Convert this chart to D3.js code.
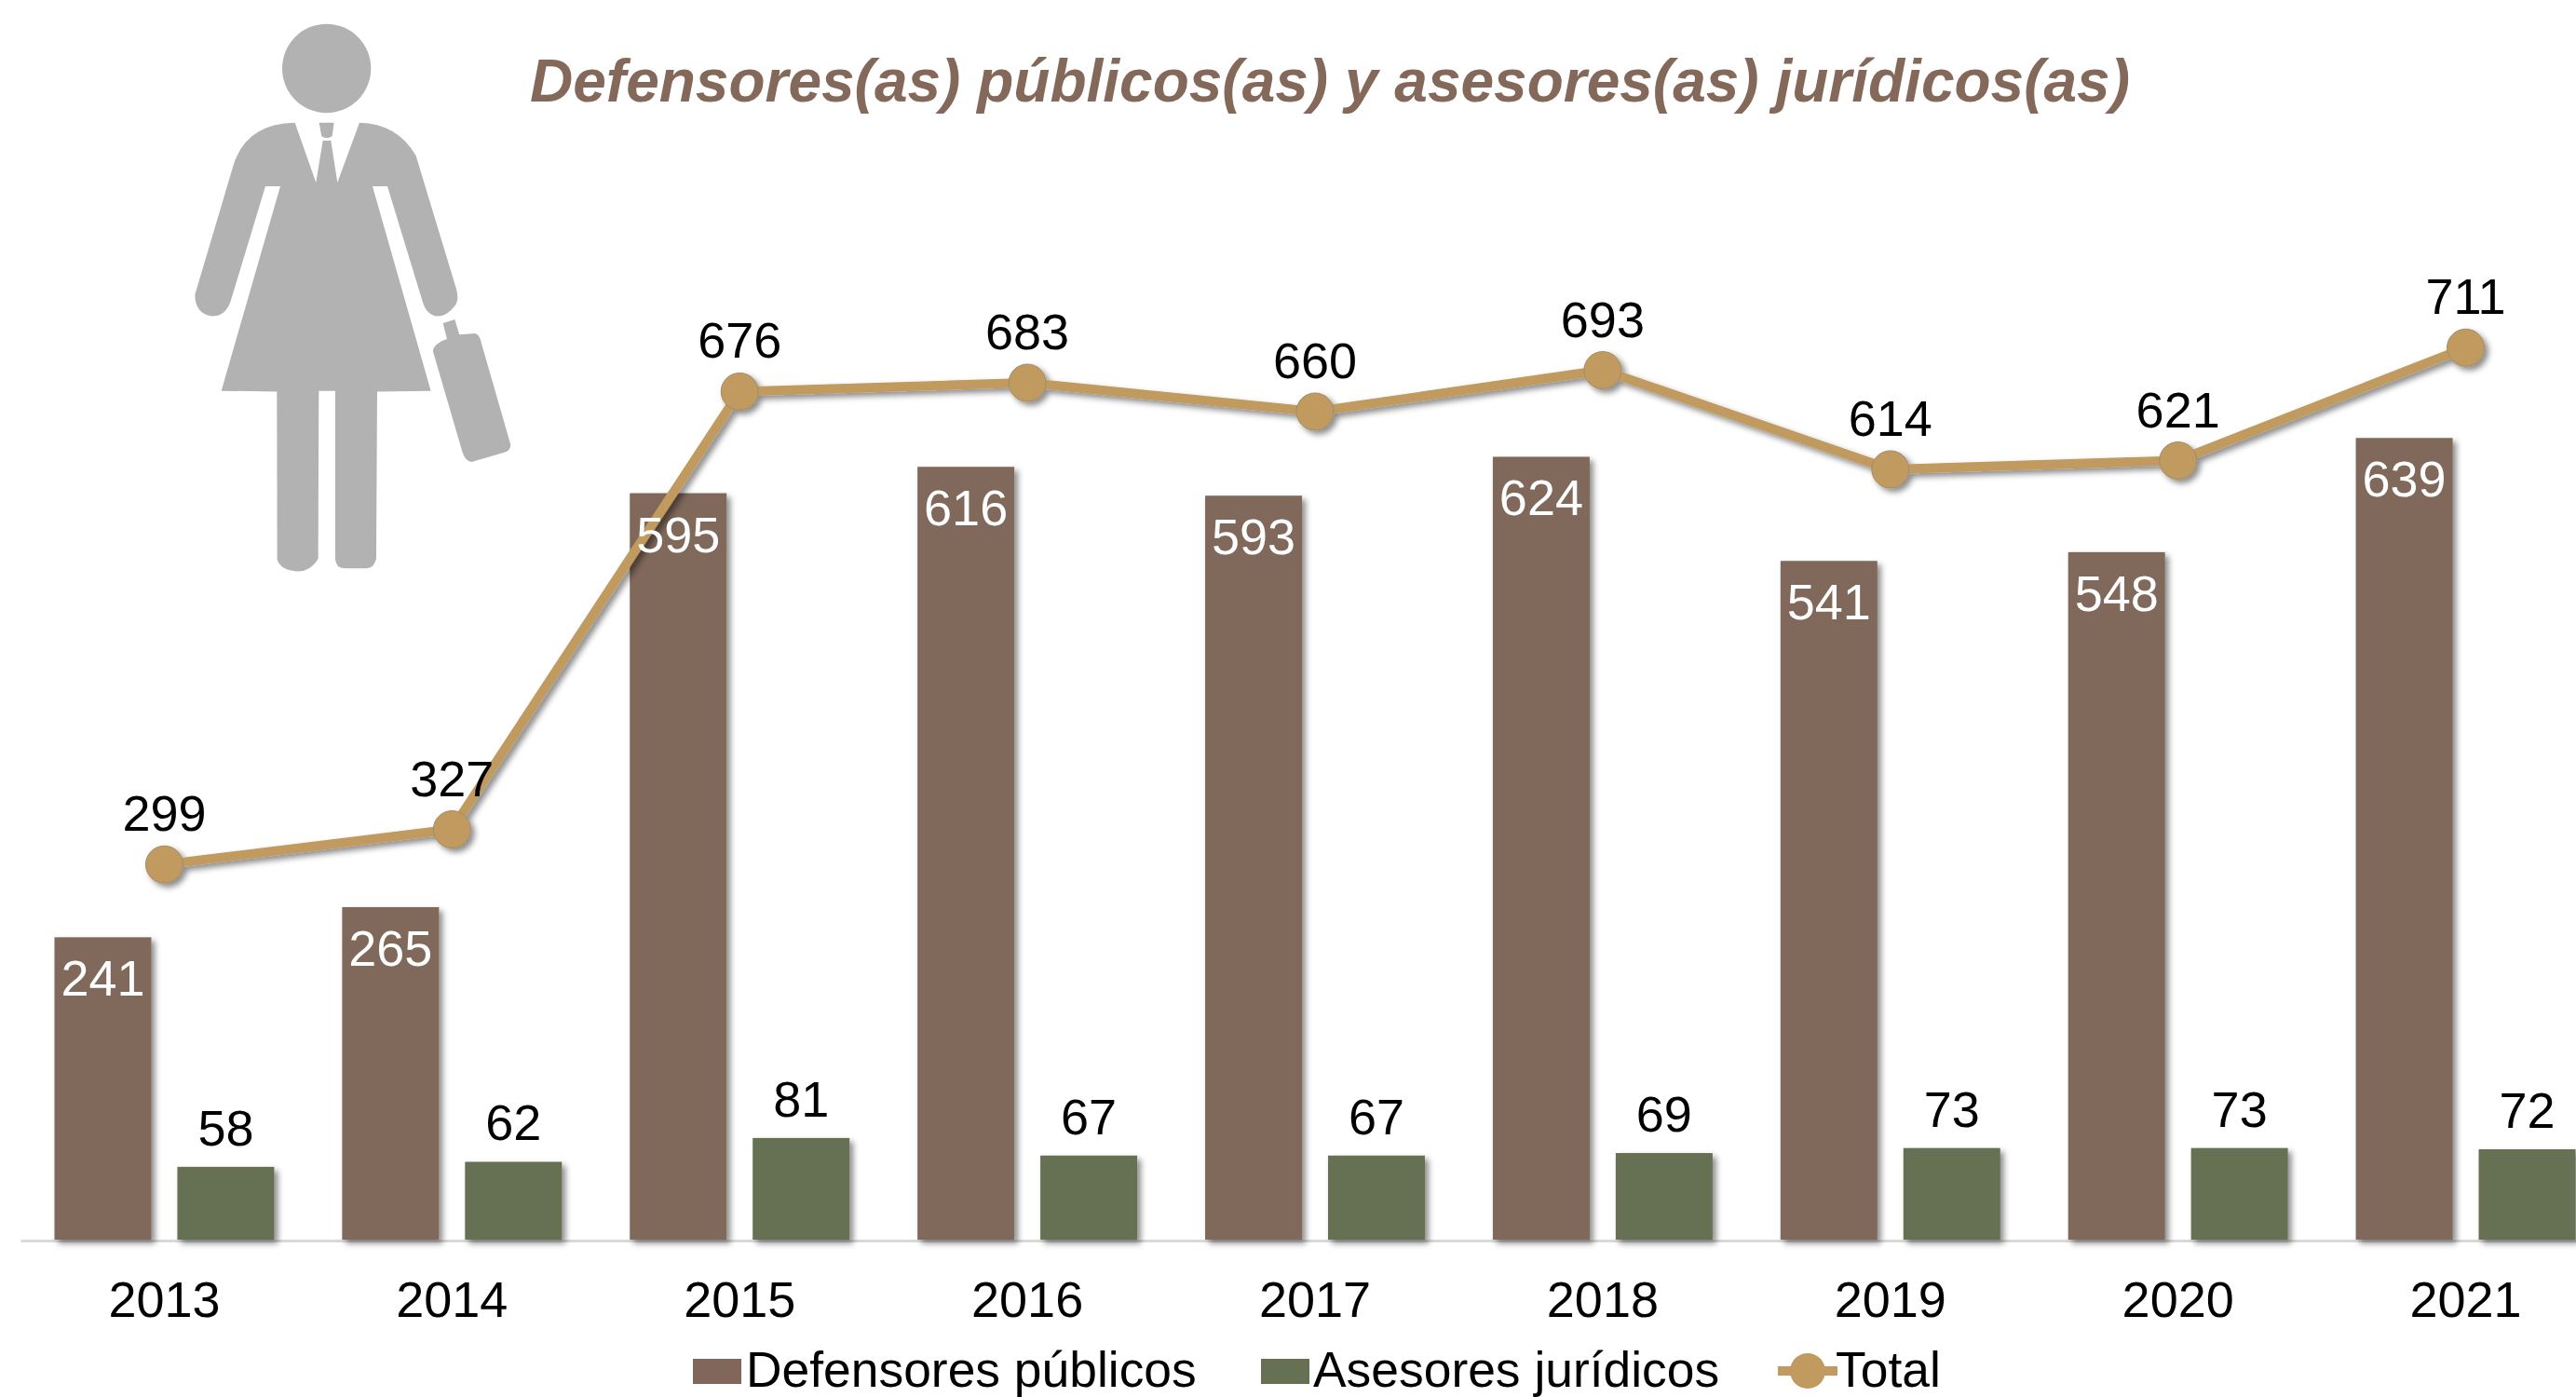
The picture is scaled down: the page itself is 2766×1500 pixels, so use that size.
<!DOCTYPE html>
<html>
<head>
<meta charset="utf-8">
<script src="https://cdn.jsdelivr.net/npm/d3@7"></script>
<style>
  html, body { margin: 0; padding: 0; background: #fff; overflow: hidden; }
  text { font-family: "Liberation Sans", Arial, sans-serif; }
</style>
</head>
<body>
<script>
const width = 2766;
const height = 1500;

const years = ["2013", "2014", "2015", "2016", "2017", "2018", "2019", "2020", "2021"];
const defensores = [241, 265, 595, 616, 593, 624, 541, 548, 639];
const asesores = [58, 62, 81, 67, 67, 69, 73, 73, 72];
const totals = [299, 327, 676, 683, 660, 693, 614, 621, 711];

const seriesNames = ["Defensores públicos", "Asesores jurídicos", "Total"];
const titleText = "Defensores(as) públicos(as) y asesores(as) jurídicos(as)";

const brown = "#80675a";
const green = "#667052";
const gold = "#c19a5f";
const labelSize = 54;
const baseline = 1331;

const svg = d3.select("body")
  .append("svg")
  .attr("width", width)
  .attr("height", height)
  .style("display", "block");

const defs = svg.append("defs");
const shadow = defs.append("filter")
  .attr("id", "shadow")
  .attr("x", "-20%").attr("y", "-20%")
  .attr("width", "140%").attr("height", "140%");
shadow.append("feDropShadow")
  .attr("dx", 4).attr("dy", 4)
  .attr("stdDeviation", 3)
  .attr("flood-color", "#000")
  .attr("flood-opacity", 0.45);

// last band runs past the right edge of the page, same as the source image
const x = d3.scaleBand().domain(years).range([22, 2802]);
const inner = d3.scaleBand()
  .domain(["defensores", "asesores"])
  .range([0, x.bandwidth()])
  .paddingInner(28 / 132)
  .paddingOuter(36.5 / 132);
const y = d3.scaleLinear().domain([0, 800]).range([baseline, baseline - 800 * 1.347]);

// woman icon
const icon = svg.append("g")
  .attr("transform", "translate(150,0) scale(0.3333,0.4082)")
  .attr("fill", "#b2b2b2");
icon.append("ellipse").attr("cx", 602).attr("cy", 180).attr("rx", 143).attr("ry", 117);
icon.append("path").attr("d", "M578,323 L626,323 L620,358 Q602,368 586,358 Z");
icon.append("path").attr("d", "M500,323 L568,480 L590,370 L616,370 L637,480 L708,323 Q830,325 890,410 L1020,760 Q1030,790 1015,805 Q990,832 960,832 Q925,830 912,795 L798,490 L750,490 L938,1028 L765,1030 L762,1470 Q755,1495 730,1495 L660,1495 Q632,1495 630,1470 L630,1028 L577,1028 L575,1470 Q550,1503 510,1503 Q450,1500 443,1470 L442,1030 L263,1028 L453,490 L405,490 L292,795 Q275,832 232,832 Q178,825 178,775 L300,440 Q340,325 500,323 Z");
icon.append("path").attr("d", "M977,850 L1015,840 L1030,880 L1080,877 Q1095,880 1100,900 L1195,1170 Q1195,1185 1175,1190 L1070,1215 Q1050,1215 1040,1190 L945,925 Q945,905 990,892 Z");

svg.append("text")
  .attr("x", 1428)
  .attr("y", 109)
  .attr("text-anchor", "middle")
  .attr("font-size", 64)
  .attr("font-weight", "bold")
  .attr("font-style", "italic")
  .attr("fill", "#84695a")
  .text(titleText);

// x axis
const xAxis = svg.append("g")
  .attr("transform", `translate(0, ${baseline + 1})`)
  .call(d3.axisBottom(x).tickSize(0).tickPadding(44));
xAxis.select(".domain")
  .attr("stroke", "#d9d9d9")
  .attr("stroke-width", 3);
xAxis.selectAll("text")
  .attr("font-family", "Liberation Sans")
  .attr("font-size", labelSize)
  .attr("fill", "#000");

// bars
svg.append("g").selectAll("rect")
  .data(defensores)
  .join("rect")
  .attr("x", (d, i) => x(years[i]) + inner("defensores"))
  .attr("y", d => y(d))
  .attr("width", inner.bandwidth())
  .attr("height", d => baseline - y(d))
  .attr("fill", brown)
  .attr("filter", "url(#shadow)");

svg.append("g").selectAll("rect")
  .data(asesores)
  .join("rect")
  .attr("x", (d, i) => x(years[i]) + inner("asesores"))
  .attr("y", d => y(d))
  .attr("width", inner.bandwidth())
  .attr("height", d => baseline - y(d))
  .attr("fill", green)
  .attr("filter", "url(#shadow)");

// total line
const line = d3.line()
  .x((d, i) => x(years[i]) + x.bandwidth() / 2)
  .y(d => y(d));

const lineGroup = svg.append("g").attr("filter", "url(#shadow)");
lineGroup.append("path")
  .datum(totals)
  .attr("d", line)
  .attr("fill", "none")
  .attr("stroke", gold)
  .attr("stroke-width", 10)
  .attr("stroke-linejoin", "round");
lineGroup.selectAll("circle")
  .data(totals)
  .join("circle")
  .attr("cx", (d, i) => x(years[i]) + x.bandwidth() / 2)
  .attr("cy", d => y(d))
  .attr("r", 20)
  .attr("fill", gold)
  .attr("stroke", "#a08a68")
  .attr("stroke-width", 1);

// data labels
function labels(data, xFn, yOffset, color) {
  svg.append("g").selectAll("text")
    .data(data)
    .join("text")
    .attr("x", xFn)
    .attr("y", d => y(d) + yOffset)
    .attr("text-anchor", "middle")
    .attr("font-size", labelSize)
    .attr("fill", color)
    .text(d => d);
}
labels(defensores, (d, i) => x(years[i]) + inner("defensores") + inner.bandwidth() / 2, 63, "#fff");
labels(asesores, (d, i) => x(years[i]) + inner("asesores") + inner.bandwidth() / 2, -23, "#000");
labels(totals, (d, i) => x(years[i]) + x.bandwidth() / 2, -36, "#000");

// legend, sits a few px higher than the source so the descenders stay on the page
const legendY = 1489;
const legend = svg.append("g");
const legendText = [801, 1410, 1971];
legend.selectAll("text")
  .data(seriesNames)
  .join("text")
  .attr("x", (d, i) => legendText[i])
  .attr("y", legendY)
  .attr("font-size", 53.4)
  .attr("fill", "#000")
  .text(d => d);
legend.append("rect").attr("x", 744).attr("y", legendY - 30).attr("width", 52).attr("height", 27).attr("fill", brown);
legend.append("rect").attr("x", 1354).attr("y", legendY - 30).attr("width", 52).attr("height", 27).attr("fill", green);
legend.append("line").attr("x1", 1909).attr("x2", 1973).attr("y1", legendY - 17).attr("y2", legendY - 17)
  .attr("stroke", gold).attr("stroke-width", 10);
legend.append("circle").attr("cx", 1941).attr("cy", legendY - 17).attr("r", 19).attr("fill", gold);
</script>
</body>
</html>
